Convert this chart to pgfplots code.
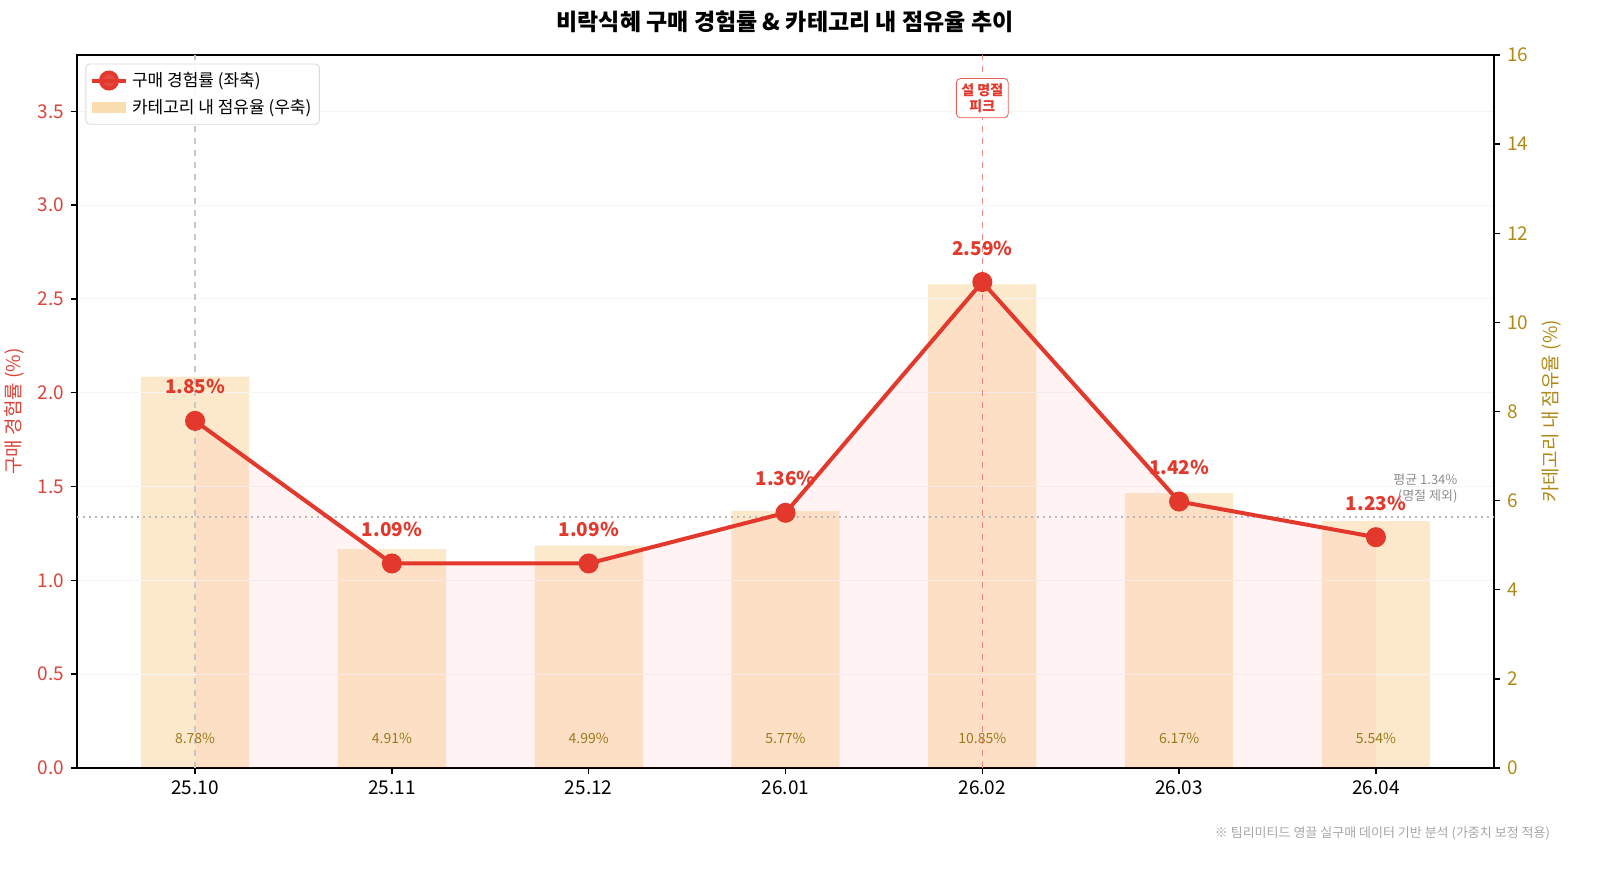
\documentclass[border=0pt]{standalone}
\usepackage{pgfplots}
\pgfplotsset{compat=1.18}
\usepackage{fontspec}
\setmainfont{Noto Sans CJK KR}
\definecolor{linered}{HTML}{E2392C}
\definecolor{lefttick}{HTML}{D9453A}
\definecolor{goldc}{HTML}{B08A18}
\definecolor{barc}{HTML}{F9CF8F}
\definecolor{barlbl}{HTML}{9C7A1C}
\begin{document}
\begin{tikzpicture}[font=\fontsize{9}{11}\selectfont]
\begin{axis}[name=bars, at={(0,0)}, anchor=south west, scale only axis,
  width=708.5pt, height=356.5pt,
  xmin=-0.6, xmax=6.6, ymin=0, ymax=16,
  axis x line=none, axis y line*=right,
  axis line style={black, line width=0.9pt},
  ytick={0,2,...,16},
  tick align=outside, major tick length=3pt,
  tick style={black, line width=0.7pt},
  /pgf/number format/assume math mode=true,
  yticklabel style={goldc, font=\fontsize{9.5}{11}\selectfont},
  ylabel={카테고리 내 점유율 (\%)},
  ylabel style={goldc, font=\fontsize{9.5}{11}\selectfont},
  ]
\addplot[ybar, bar width=0.55, fill=barc, fill opacity=0.45, draw=none]
  coordinates {(0,8.78) (1,4.91) (2,4.99) (3,5.77) (4,10.85) (5,6.17) (6,5.54)};
\end{axis}
\begin{axis}[at={(0,0)}, anchor=south west, scale only axis,
  width=708.5pt, height=356.5pt,
  xmin=-0.6, xmax=6.6, ymin=0, ymax=3.8,
  axis line style={black, line width=0.9pt},
  xtick={0,...,6},
  xticklabels={25.10,25.11,25.12,26.01,26.02,26.03,26.04},
  xtick pos=bottom, ytick pos=left,
  ytick={0,0.5,...,3.5},
  tick align=outside, major tick length=3pt,
  tick style={black, line width=0.7pt},
  /pgf/number format/assume math mode=true,
  yticklabel style={lefttick, /pgf/number format/fixed, /pgf/number format/fixed zerofill, /pgf/number format/precision=1, font=\fontsize{9.5}{11}\selectfont},
  xticklabel style={font=\fontsize{9.5}{11}\selectfont},
  ylabel={구매 경험률 (\%)},
  ylabel style={lefttick, font=\fontsize{9.5}{11}\selectfont},
  ymajorgrids, grid style={gray!8, line width=0.5pt},
  legend style={at={(0.006,0.988)}, anchor=north west, rounded corners=2pt,
    draw=gray!30, fill=white, fill opacity=0.9, text opacity=1,
    font=\fontsize{8.5}{10}\selectfont, row sep=1pt, inner sep=2pt},
  legend cell align=left,
  ]
\addplot[draw=none, fill=red!60, fill opacity=0.08, forget plot]
  coordinates {(0,1.85) (1,1.09) (2,1.09) (3,1.36) (4,2.59) (5,1.42) (6,1.23)} \closedcycle;
\addplot[gray!45, dashed, line width=0.7pt, forget plot] coordinates {(0,0) (0,3.8)};
\addplot[linered!60, dashed, line width=0.8pt, forget plot] coordinates {(4,0) (4,3.8)};
\addplot[gray!55, dotted, line width=1pt, forget plot] coordinates {(-0.6,1.34) (6.6,1.34)};
\addplot[linered, line width=2pt, mark=*, mark size=4pt, mark options={fill=linered, draw=linered, sharp corners}]
  coordinates {(0,1.85) (1,1.09) (2,1.09) (3,1.36) (4,2.59) (5,1.42) (6,1.23)};
\addlegendentry{구매 경험률 (좌축)}
\addlegendimage{area legend, fill=barc, fill opacity=0.7, draw=barc, draw opacity=0, sharp corners}
\addlegendentry{카테고리 내 점유율 (우축)}
% value labels
\foreach \x/\y/\t in {0/1.85/1.85, 1/1.09/1.09, 2/1.09/1.09, 3/1.36/1.36, 4/2.59/2.59, 5/1.42/1.42, 6/1.23/1.23} {
  \edef\temp{\noexpand\node[text=linered, font=\noexpand\fontsize{9.5}{11}\noexpand\selectfont\noexpand\bfseries] at (axis cs:\x,\y) [yshift=17pt] {\t\noexpand\%};}
  \temp
}
\foreach \x/\t in {0/8.78, 1/4.91, 2/4.99, 3/5.77, 4/10.85, 5/6.17, 6/5.54} {
  \edef\temp{\noexpand\node[text=barlbl, font=\noexpand\fontsize{7}{8}\noexpand\selectfont] at (axis cs:\x,0.16) {\t\noexpand\%};}
  \temp
}
\node[draw=linered!80, fill=white, rounded corners=2pt, text=linered, align=center,
  font=\fontsize{7}{8}\selectfont\bfseries, inner sep=2.5pt] at (axis cs:4,3.57) {설 명절\\피크};
\node[anchor=east, align=right, text=gray!90, font=\fontsize{6.5}{8}\selectfont] at (axis cs:6.45,1.49) {평균 1.34\%\\(명절 제외)};
\end{axis}
\node[font=\fontsize{11.5}{13}\selectfont\bfseries] at (354pt,373pt) {비락식혜 구매 경험률 \& 카테고리 내 점유율 추이};
\node[anchor=east, text=gray!70, font=\fontsize{6.5}{8}\selectfont] at (740pt,-32.5pt) {※ 팀리미티드 영끌 실구매 데이터 기반 분석 (가중치 보정 적용)};
\pgfresetboundingbox
\path[use as bounding box] (-38.5pt,-51pt) rectangle (761.5pt,384pt);
\end{tikzpicture}
\end{document}
